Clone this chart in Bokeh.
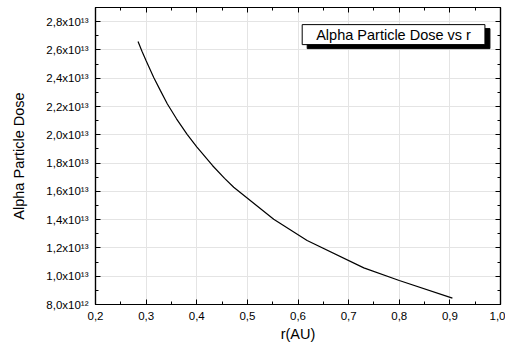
from bokeh.plotting import figure
from bokeh.models import LinearAxis, FixedTicker, Label, ColumnDataSource, CustomJSTickFormatter
from bokeh.embed import file_html
from bokeh.resources import INLINE

# ---- data ----
r_au = [0.284, 0.292, 0.300, 0.315, 0.328, 0.342, 0.360, 0.381, 0.400,
        0.431, 0.455, 0.473, 0.552, 0.618, 0.730, 0.800, 0.905]
dose = [2.659e13, 2.589e13, 2.523e13, 2.405e13, 2.314e13, 2.218e13, 2.113e13,
        2.003e13, 1.915e13, 1.783e13, 1.692e13, 1.629e13, 1.403e13, 1.252e13,
        1.059e13, 0.970e13, 0.845e13]

x_ticks = [0.2, 0.3, 0.4, 0.5, 0.6, 0.7, 0.8, 0.9, 1.0]
x_tick_labels = ["0,2", "0,3", "0,4", "0,5", "0,6", "0,7", "0,8", "0,9", "1,0"]
y_ticks = [8e12, 1.0e13, 1.2e13, 1.4e13, 1.6e13, 1.8e13, 2.0e13, 2.2e13,
           2.4e13, 2.6e13, 2.8e13]
y_tick_labels = ["8,0x10\u00b9\u00b2", "1,0x10\u00b9\u00b3", "1,2x10\u00b9\u00b3",
                 "1,4x10\u00b9\u00b3", "1,6x10\u00b9\u00b3", "1,8x10\u00b9\u00b3",
                 "2,0x10\u00b9\u00b3", "2,2x10\u00b9\u00b3", "2,4x10\u00b9\u00b3",
                 "2,6x10\u00b9\u00b3", "2,8x10\u00b9\u00b3"]
x_minor = [0.25, 0.35, 0.45, 0.55, 0.65, 0.75, 0.85, 0.95]
y_minor = [9e12, 1.1e13, 1.3e13, 1.5e13, 1.7e13, 1.9e13, 2.1e13, 2.3e13,
           2.5e13, 2.7e13]

title_text = "Alpha Particle Dose vs r"
x_label = "r(AU)"
y_label = "Alpha Particle Dose"

FONT = "Liberation Sans"

p = figure(width=505, height=351, x_range=(0.2, 1.0), y_range=(8e12, 2.9e13),
           output_backend="svg", toolbar_location=None,
           min_border_left=95, min_border_right=5, min_border_top=7,
           min_border_bottom=47, x_axis_location=None, y_axis_location=None)
p.background_fill_color = "white"
p.border_fill_color = "white"
p.outline_line_color = "black"
p.outline_line_width = 1.2

src = ColumnDataSource(dict(r=r_au, d=dose))
p.line("r", "d", source=src, line_color="black", line_width=1.2)


def style(ax, ticks, minor, overrides=None, show_labels=True):
    ax.ticker = FixedTicker(ticks=ticks, minor_ticks=minor)
    ax.axis_line_color = "black"
    ax.axis_line_width = 1.2
    ax.major_tick_in = 5
    ax.major_tick_out = 0
    ax.minor_tick_in = 3
    ax.minor_tick_out = 0
    ax.major_tick_line_color = "black"
    ax.minor_tick_line_color = "black"
    if overrides is not None:
        ax.major_label_overrides = overrides
    ax.major_label_text_font = FONT
    ax.major_label_text_font_size = "11.5px"
    ax.major_label_text_color = "black"
    if not show_labels:
        ax.formatter = CustomJSTickFormatter(code="return ''")
        ax.major_label_standoff = 0


xb = LinearAxis(axis_label=x_label)
style(xb, x_ticks, x_minor, dict(zip(x_ticks, x_tick_labels)))
xb.major_label_standoff = 7
xb.axis_label_standoff = 3
xb.axis_label_text_font = FONT
xb.axis_label_text_font_size = "14.5px"
xb.axis_label_text_font_style = "normal"
xb.axis_label_text_color = "black"
p.add_layout(xb, "below")

yl = LinearAxis(axis_label=y_label)
style(yl, y_ticks, y_minor, dict(zip(y_ticks, y_tick_labels)))
yl.major_label_standoff = 7
yl.axis_label_standoff = 16
yl.axis_label_text_font = FONT
yl.axis_label_text_font_size = "14.5px"
yl.axis_label_text_font_style = "normal"
yl.axis_label_text_color = "black"
p.add_layout(yl, "left")

xt = LinearAxis()
style(xt, x_ticks, x_minor, show_labels=False)
p.add_layout(xt, "above")

yr = LinearAxis()
style(yr, y_ticks, y_minor, show_labels=False)
p.add_layout(yr, "right")

p.xgrid.ticker = FixedTicker(ticks=x_ticks)
p.ygrid.ticker = FixedTicker(ticks=y_ticks)
p.xgrid.grid_line_color = "#e4e4e4"
p.ygrid.grid_line_color = "#e4e4e4"
p.xgrid.grid_line_width = 1
p.ygrid.grid_line_width = 1

# title box with drop shadow (anchored in data space near top right)
box_x = 0.6083
box_y = 2.779e13
shadow = Label(x=box_x, y=box_y, x_offset=5, y_offset=-4, anchor="top_left",
               text=title_text, text_font=FONT, text_font_size="14.5px",
               text_color="black", background_fill_color="black",
               border_line_color="black", padding=(14, 2))
front = Label(x=box_x, y=box_y, anchor="top_left",
              text=title_text, text_font=FONT, text_font_size="14.5px",
              text_color="black", background_fill_color="white",
              border_line_color="black", border_line_width=1, padding=(14, 2))
p.add_layout(shadow)
p.add_layout(front)

open("out.html", "w").write(file_html(p, INLINE))
